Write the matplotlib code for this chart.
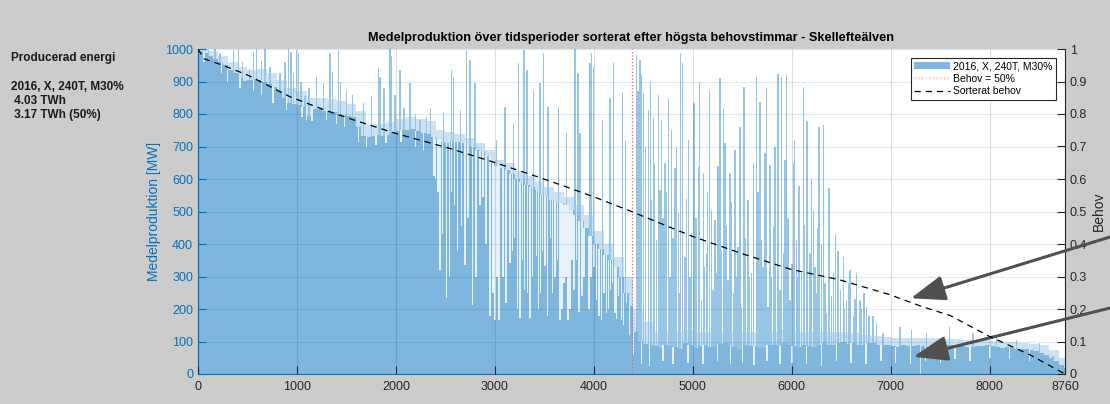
import matplotlib
matplotlib.use('Agg')
import matplotlib.pyplot as plt
import numpy as np
from matplotlib.patches import Patch
from matplotlib.lines import Line2D

plt.rcParams['font.family'] = ['Liberation Sans', 'DejaVu Sans']

# Medelproduktion, typisk nivå per 50-timmarsblock (MW), timme 0, 50, ..., 8750
base_mw = [995, 988, 980, 970, 960, 950, 935, 925, 910, 902,
           905, 908, 905, 900, 892, 882, 870, 850, 835, 830,
           828, 822, 795, 815, 815, 810, 808, 805, 800, 798,
           795, 790, 760, 732, 730, 733, 735, 732, 735, 745,
           748, 750, 752, 755, 748, 742, 740, 730, 722, 715,
           712, 718, 715, 710, 705, 700, 690, 685, 670, 655,
           640, 635, 628, 615, 600, 590, 582, 575, 565, 555,
           545, 535, 530, 525, 520, 505, 490, 470, 450, 425,
           400, 385, 365, 350, 330, 300, 250, 210, 130, 100,
           92, 88, 85, 80, 90, 86, 84, 78, 95, 88,
           80, 85, 90, 84, 86, 92, 95, 88, 82, 78,
           90, 86, 85, 80, 80, 88, 90, 85, 94, 90,
           85, 82, 90, 86, 82, 88, 94, 90, 90, 95,
           98, 92, 95, 90, 90, 94, 94, 88, 88, 90,
           86, 82, 90, 86, 85, 88, 86, 84, 90, 88,
           86, 90, 90, 88, 85, 82, 82, 86, 86, 90,
           86, 84, 80, 82, 80, 78, 76, 76, 74, 70,
           66, 60, 50, 40, 28, 20]

# ljusare "dis" av staplar ovanför den typiska nivån, per 100 timmar (MW)
haze_mw = [1000, 995, 980, 960, 945, 935, 940, 925, 905, 880,
           870, 850, 850, 845, 840, 830, 810, 770, 770, 775,
           785, 790, 785, 780, 750, 745, 740, 725, 710, 690,
           660, 650, 625, 610, 595, 575, 560, 545, 520, 490,
           440, 400, 360, 300, 200, 160, 130, 130, 130, 135,
           130, 130, 130, 135, 130, 130, 130, 130, 130, 135,
           130, 130, 130, 130, 130, 130, 125, 120, 118, 115,
           112, 112, 110, 110, 110, 108, 108, 105, 105, 105,
           102, 100, 98, 95, 92, 88, 75, 50]

# toppar (timme, MW)
spike_hr = [104, 172, 222, 357, 407, 450, 520, 560, 592, 643, 677, 727, 828, 880,
            912, 940, 963, 997, 1013, 1040, 1081, 1120, 1198, 1266, 1333, 1360,
            1417, 1440, 1502, 1560, 1670, 1754, 1821, 1838, 1880, 1939, 1956, 1990,
            2040, 2080, 2141, 2200, 2242, 2310, 2350, 2478,
            2562, 2579, 2655, 2713, 2747, 2798, 3016, 3101, 3185, 3240, 3293, 3326,
            3387, 3454, 3488, 3538, 3645, 3723, 3808, 3841, 3858, 3959, 3976, 3993,
            4087, 4161, 4200, 4290, 4320,
            4431, 4465, 4482, 4499, 4549, 4600, 4684, 4718, 4751, 4785, 4819, 4876,
            4896, 4953, 5010, 5054, 5105, 5165, 5189, 5223, 5273, 5324, 5374, 5425,
            5515, 5559, 5643, 5677, 5728, 5778, 5862, 5896, 5946, 6014, 6074, 6115,
            6155, 6216, 6276, 6317, 6377, 6468, 6519, 6586, 6654,
            4583, 4633, 4667, 4852, 4919, 4987, 5088, 5138, 5240, 5340, 5408, 5458,
            5492, 5593, 5694, 5761, 5812, 5913, 5980, 6047, 6098, 6182, 6249, 6350,
            6418, 6553, 6620, 6687, 6754, 6822,
            4445, 4520, 4570, 4615, 4650, 4700, 4735, 4770, 4800, 4835, 4860, 4935,
            4970, 5030, 5070, 5120, 5150, 5205, 5255, 5290, 5310, 5355, 5390, 5440,
            5475, 5530, 5575, 5610, 5660, 5710, 5745, 5795, 5830, 5880, 5930, 5960,
            6000, 6030, 6060, 6130, 6200, 6235, 6260, 6300, 6335, 6400, 6440, 6490,
            6530, 6570, 6640, 6700, 6730, 6780,
            6855, 6923, 7091, 7209, 7360, 7596, 7832, 8068, 8270, 8505, 8640]
spike_mw = [997, 1000, 987, 997, 1000, 960, 940, 990, 1000, 966, 1000, 946, 925, 960,
            1000, 990, 925, 997, 987, 900, 854, 880, 915, 895, 987, 930,
            997, 900, 874, 860, 833, 854, 941, 915, 880, 1000, 977, 860,
            936, 820, 895, 800, 782, 792, 820, 802,
            936, 915, 813, 997, 966, 895, 720, 823, 772, 956, 997, 936,
            874, 895, 987, 823, 823, 741, 1000, 925, 741, 956, 987, 946,
            782, 849, 956, 869, 720,
            982, 966, 920, 864, 813, 787, 782, 649, 849, 751, 633, 987,
            956, 720, 833, 638, 618, 874, 505, 474, 910, 710, 618, 690,
            884, 536, 915, 838, 679, 643, 922, 915, 920, 649, 577, 884,
            777, 505, 761, 766, 572, 377, 361, 320, 310,
            536, 413, 567, 495, 361, 433, 228, 372, 310, 454, 249, 392,
            207, 310, 413, 207, 454, 372, 228, 413, 310, 372, 249, 187,
            310, 228, 177, 228, 207, 177,
            870, 700, 900, 650, 860, 480, 560, 300, 420, 700, 250, 540,
            300, 480, 900, 330, 560, 260, 640, 380, 820, 290, 530, 300,
            760, 420, 300, 650, 560, 330, 880, 300, 700, 260, 660, 480,
            340, 720, 300, 460, 600, 330, 450, 400, 280, 240, 430, 260,
            200, 280, 230, 200, 250, 180,
            156, 125, 146, 136, 125, 146, 125, 115, 105, 95, 54]

# luckor ned från den typiska nivån (timme, MW)
dip_hr = [60, 240, 300, 425, 560, 640, 760, 895, 1050, 1097, 1150, 1300, 1400, 1480,
          1620, 1700, 1800, 1900, 2050, 2200, 2280,
          2377, 2384, 2400, 2427, 2444, 2470, 2511, 2540, 2560, 2590, 2620, 2663,
          2697, 2730, 2774, 2810, 2850, 2882, 2910, 2949, 2980, 3000, 3020, 3043,
          3084, 3110, 3151, 3180, 3200, 3230, 3252, 3280, 3300, 3330, 3353, 3380,
          3420, 3440, 3460, 3480, 3505, 3530, 3560, 3580, 3606, 3630, 3656, 3680,
          3700, 3720, 3740, 3760, 3780, 3800, 3824, 3850, 3880, 3900, 3925, 3950,
          3970, 4000, 4027, 4050, 4077, 4100, 4128, 4150, 4170, 4190, 4212, 4230,
          4250, 4279, 4300, 4330, 4360,
          4400, 4480, 4560, 4700, 4800, 4950, 5100, 5250, 5380, 5500, 5620, 5750,
          5880, 6000, 6150, 6300, 6450, 6600, 6750, 6900, 7050, 7200, 7350, 7500,
          7650, 7800, 8000, 8200, 8400]
dip_mw = [960, 925, 900, 880, 870, 860, 833, 813, 790, 782, 780, 782, 770, 760,
          715, 700, 705, 710, 715, 700, 690,
          669, 610, 600, 560, 320, 430, 233, 300, 560, 520, 380, 454,
          336, 480, 213, 300, 520, 546, 400, 177, 250, 167, 300, 167,
          300, 220, 341, 380, 420, 200, 172, 350, 260, 250, 172, 300,
          362, 200, 250, 380, 331, 180, 420, 250, 300, 350, 167, 200,
          280, 300, 167, 200, 350, 260, 351, 190, 240, 300, 454, 200,
          300, 330, 228, 180, 167, 250, 187, 200, 260, 280, 187, 170,
          240, 167, 150, 218, 120,
          60, 30, 25, 40, 30, 35, 30, 40, 30, 35, 28, 40,
          30, 35, 30, 25, 40, 35, 30, 40, 35, 30, 40, 35,
          45, 40, 50, 45, 40]

# sorterat behov (andel)
behov_hr = [0, 60, 250, 500, 930, 1300, 1600, 2000, 2545, 2975, 3400, 3720, 4000,
            4380, 4700, 5000, 5500, 5990, 6480, 6980, 7320, 7600, 8000, 8400, 8760]
behov_val = [1.0, 0.97, 0.95, 0.92, 0.853, 0.81, 0.779, 0.74, 0.694, 0.653, 0.61,
             0.576, 0.545, 0.50, 0.46, 0.423, 0.37, 0.322, 0.29, 0.245, 0.207,
             0.18, 0.115, 0.06, 0.0]
behov_50_hr = 4384

blue = '#0072BD'
fill = '#7EB6DE'

fig = plt.figure(figsize=(11.10, 4.04), dpi=100, facecolor='#CCCCCC')
ax = fig.add_axes([198 / 1110, 1 - 374 / 404, 867 / 1110, 325 / 404])
ax.set_facecolor('white')

base_hr = np.arange(len(base_mw)) * 50
haze_hr = np.arange(len(haze_mw)) * 100
ax.bar(haze_hr, haze_mw, width=100, align='edge', color='#CCE2F3', linewidth=0, zorder=0.8)
ax.bar(spike_hr, spike_mw, width=14, color='#97C5E6', linewidth=0, zorder=1.0)
ax.bar(base_hr, base_mw, width=50, align='edge', color=fill, linewidth=0, zorder=1.2)
base_at = np.array(base_mw)[np.array(dip_hr) // 50]
ax.bar(dip_hr, base_at - np.array(dip_mw), bottom=dip_mw, width=15,
       color='#E8F2FA', linewidth=0, zorder=1.4)
ax.axvline(behov_50_hr, color='#E06070', linestyle=':', linewidth=0.9, zorder=3)

ax.set_xlim(0, 8760)
ax.set_ylim(0, 1000)
ax.set_xticks(list(range(0, 9000, 1000)) + [8760])
ax.set_yticks(range(0, 1001, 100))
ax.grid(axis='y', color=blue, alpha=0.15, linewidth=0.8)
ax.grid(axis='x', color='#262626', alpha=0.15, linewidth=0.8)
ax.set_axisbelow(False)
ax.tick_params(axis='y', direction='in', length=6, colors=blue, labelsize=9)
ax.tick_params(axis='x', direction='in', length=6, color='#262626',
               labelcolor='#262626', labelsize=9, pad=5)
ax.spines['left'].set_color(blue)
ax.spines['bottom'].set_color('#1A6FB0')
ax.spines['top'].set_visible(False)
ax.spines['right'].set_visible(False)
ax.set_ylabel('Medelproduktion [MW]', color=blue, fontsize=10, labelpad=3)
ax.set_title('Medelproduktion över tidsperioder sorterat efter högsta behovstimmar - Skellefteälven',
             fontsize=9.2, fontweight='bold', pad=6)

ax2 = ax.twinx()
ax2.plot(behov_hr, behov_val, color='black', linestyle=(0, (5, 4)), linewidth=0.9, zorder=4)
ax2.set_ylim(0, 1)
ax2.set_yticks(np.arange(0, 1.01, 0.1))
ax2.set_yticklabels(['0', '0.1', '0.2', '0.3', '0.4', '0.5', '0.6', '0.7', '0.8', '0.9', '1'])
ax2.tick_params(axis='y', direction='in', length=6, colors='#262626', labelsize=9)
for s in ['left', 'top', 'bottom']:
    ax2.spines[s].set_visible(False)
ax2.spines['right'].set_color('#262626')
ax2.set_ylabel('Behov', fontsize=10, color='#262626', labelpad=3)

handles = [Patch(facecolor=fill, edgecolor='none'),
           Line2D([], [], color='#F4A0A8', linestyle=':', linewidth=1),
           Line2D([], [], color='black', linestyle=(0, (5, 4)), linewidth=0.9)]
leg = ax2.legend(handles, ['2016, X, 240T, M30%', 'Behov = 50%', 'Sorterat behov'],
                 loc='upper right', bbox_to_anchor=(0.9896, 0.972), borderaxespad=0,
                 fontsize=7.5, fancybox=False, edgecolor='#262626', framealpha=1,
                 handlelength=3.5, handletextpad=0.3, borderpad=0.3, labelspacing=0.25)
leg.get_frame().set_linewidth(0.8)

# pilar
arrow = dict(arrowstyle='-|>,head_length=1.5,head_width=0.55', color='#505050',
             linewidth=2.2, mutation_scale=14, shrinkA=0, shrinkB=0)
ax2.annotate('', xy=(7202, 0.233), xycoords='data', xytext=(1.0, 1 - 237 / 404),
             textcoords='figure fraction', arrowprops=arrow, annotation_clip=False)
ax2.annotate('', xy=(7228, 0.053), xycoords='data', xytext=(1.0, 1 - 308 / 404),
             textcoords='figure fraction', arrowprops=arrow, annotation_clip=False)

# text till vänster
fig.text(11 / 1110, 1 - 57.5 / 404, 'Producerad energi', fontsize=8.5, fontweight='bold',
         va='center', color='#1a1a1a')
fig.text(11 / 1110, 1 - 81 / 404, '2016, X, 240T, M30%\n 4.03 TWh\n 3.17 TWh (50%)',
         fontsize=8.5, fontweight='bold', va='top', color='#1a1a1a', linespacing=1.2)

fig.savefig('out.png', dpi=100, facecolor=fig.get_facecolor())
